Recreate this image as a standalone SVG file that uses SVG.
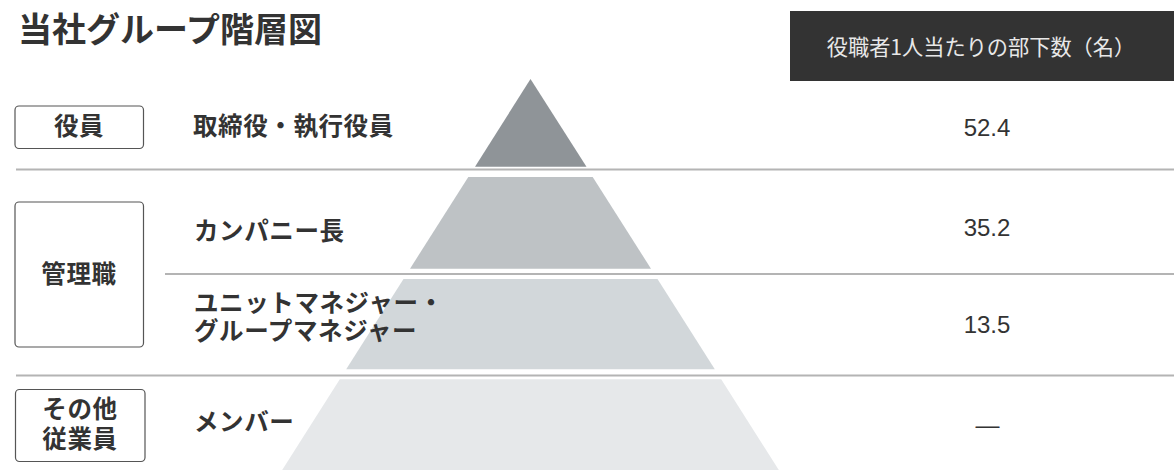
<svg xmlns="http://www.w3.org/2000/svg" width="1174" height="470" viewBox="0 0 1174 470">
<style>
.jp{font-family:"Noto Sans CJK JP","Noto Sans CJK SC",sans-serif;fill:#333}
.b{font-weight:700}
.lbl{font-size:24.5px;font-weight:700;letter-spacing:0.6px}
.num{font-family:"Liberation Sans",Arial,sans-serif;font-size:24px;fill:#333;text-anchor:middle}
.box{fill:#fff;stroke:#555;stroke-width:1.2}
.sep{stroke:#b4b4b4;stroke-width:2.2}
</style>
<rect width="1174" height="470" fill="#fff"/>
<text class="jp b" x="18" y="41.5" font-size="34">当社グループ階層図</text>
<g id="header">
<rect x="790" y="11" width="384" height="70" fill="#333"/>
<text class="jp" x="981" y="54.5" font-size="21.2" text-anchor="middle" style="fill:#e8e8e8">役職者1人当たりの部下数（名）</text>
</g>
<g id="pyramid">
<polygon points="530.5,79 475,166.7 586.5,166.7" fill="#8f9498"/>
<polygon points="468.3,177 592.7,177 651,268.7 410,268.7" fill="#bec2c5"/>
<polygon points="403.5,279 657.5,279 714.8,369.3 346.2,369.3" fill="#d2d7da"/>
<polygon points="339.8,379.3 721.2,379.3 778.8,470 282.2,470" fill="#e6e8ea"/>
</g>
<g id="separators">
<line class="sep" x1="16" y1="169.5" x2="1174" y2="169.5"/>
<line class="sep" x1="165" y1="274" x2="1174" y2="274"/>
<line class="sep" x1="16" y1="375.5" x2="1174" y2="375.5"/>
</g>
<g id="yakuin">
<rect class="box" x="15" y="106" width="128.5" height="42.5" rx="4"/>
<text class="jp lbl" x="79" y="134.5" text-anchor="middle">役員</text>
<text class="jp lbl" x="193" y="134.5">取締役・執行役員</text>
<text class="num" x="987" y="136">52.4</text>
</g>
<g id="kanrishoku">
<rect class="box" x="15" y="202" width="128.5" height="145" rx="4"/>
<text class="jp lbl" x="79" y="282.5" text-anchor="middle">管理職</text>
<text class="jp lbl" x="194" y="239.5">カンパニー長</text>
<text class="num" x="987" y="236">35.2</text>
<text class="jp lbl" x="194" y="312">ユニットマネジャー・<tspan x="194" y="339.5">グループマネジャー</tspan></text>
<text class="num" x="987" y="333">13.5</text>
</g>
<g id="sonota">
<rect class="box" x="15.5" y="389.5" width="129.5" height="72" rx="4"/>
<text class="jp lbl" x="80" y="418" text-anchor="middle">その他<tspan x="80" y="448">従業員</tspan></text>
<text class="jp lbl" x="194" y="430.5">メンバー</text>
<text class="num" x="987.5" y="432.5">—</text>
</g>
</svg>
